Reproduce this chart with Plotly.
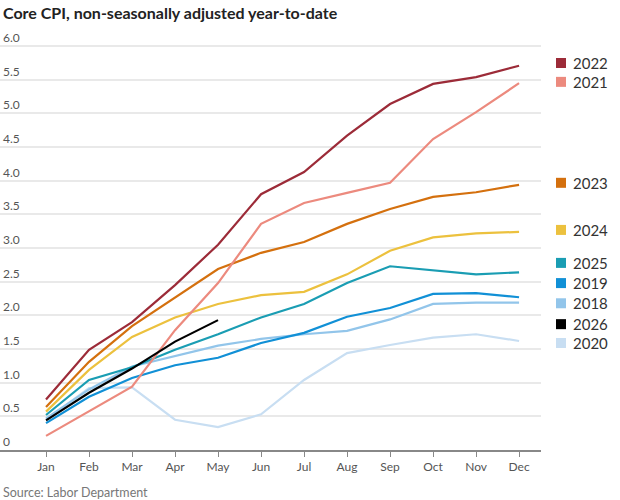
import plotly.graph_objects as go

# Data (core CPI, % change year-to-date)
months = ["Jan", "Feb", "Mar", "Apr", "May", "Jun", "Jul", "Aug", "Sep", "Oct", "Nov", "Dec"]

cpi_2022 = [0.75, 1.49, 1.90, 2.45, 3.05, 3.80, 4.13, 4.67, 5.14, 5.44, 5.54, 5.71]
cpi_2021 = [0.21, 0.57, 0.94, 1.78, 2.48, 3.36, 3.67, 3.82, 3.97, 4.62, 5.02, 5.45]
cpi_2023 = [0.64, 1.31, 1.84, 2.27, 2.69, 2.93, 3.09, 3.36, 3.58, 3.76, 3.83, 3.94]
cpi_2024 = [0.57, 1.19, 1.68, 1.97, 2.17, 2.30, 2.35, 2.61, 2.96, 3.16, 3.22, 3.24]
cpi_2025 = [0.52, 1.04, 1.23, 1.49, 1.72, 1.97, 2.17, 2.48, 2.73, 2.67, 2.61, 2.64]
cpi_2019 = [0.40, 0.79, 1.07, 1.26, 1.37, 1.59, 1.74, 1.98, 2.11, 2.32, 2.33, 2.27]
cpi_2018 = [0.47, 0.90, 1.24, 1.40, 1.55, 1.65, 1.72, 1.77, 1.94, 2.17, 2.19, 2.19]
cpi_2026 = [0.44, 0.85, 1.21, 1.61, 1.93]
cpi_2020 = [0.45, 0.92, 0.93, 0.45, 0.34, 0.53, 1.04, 1.44, 1.56, 1.67, 1.72, 1.62]

years = ["2022", "2021", "2023", "2024", "2025", "2019", "2018", "2026", "2020"]
series = [cpi_2022, cpi_2021, cpi_2023, cpi_2024, cpi_2025, cpi_2019, cpi_2018, cpi_2026, cpi_2020]
colors = ["#9c2b38", "#ec8a7e", "#d4700e", "#ecc13e", "#1a9db3", "#1190d6",
          "#92c5ea", "#000000", "#c8def2"]
# where each year label sits on the right (nudged apart so they don't overlap)
label_y = [5.75, 5.47, 3.97, 3.27, 2.78, 2.48, 2.18, 1.87, 1.59]

ytick_vals = [0, 0.5, 1.0, 1.5, 2.0, 2.5, 3.0, 3.5, 4.0, 4.5, 5.0, 5.5, 6.0]
ytick_text = ["0", "0.5", "1.0", "1.5", "2.0", "2.5", "3.0", "3.5", "4.0", "4.5", "5.0", "5.5", "6.0"]

font = "Lato"
grey = "#555555"

fig = go.Figure()

# draw lighter / older years first so the recent ones sit on top
draw_order = ["2020", "2018", "2019", "2025", "2024", "2023", "2021", "2022", "2026"]
for yr in draw_order:
    i = years.index(yr)
    vals = series[i]
    fig.add_trace(go.Scatter(x=months[:len(vals)], y=vals, mode="lines", name=yr,
                             line=dict(color=colors[i], width=2.2), showlegend=False))

# right-hand labels: coloured square + year
for i, yr in enumerate(years):
    fig.add_shape(type="rect", xref="paper", yref="y",
                  xsizemode="pixel", ysizemode="pixel",
                  xanchor=1, yanchor=label_y[i],
                  x0=15, x1=25, y0=-5, y1=5,
                  fillcolor=colors[i], line=dict(width=0))
    fig.add_annotation(text=yr, xref="paper", yref="y", x=1, y=label_y[i],
                       xanchor="left", yanchor="middle", xshift=30, showarrow=False,
                       font=dict(family=font, size=15, color="#333333"))

fig.add_annotation(text="<b>Core CPI, non-seasonally adjusted year-to-date</b>",
                   xref="paper", yref="paper", x=0, y=1, xanchor="left", yanchor="middle",
                   xshift=1, yshift=14, showarrow=False,
                   font=dict(family=font, size=16, color="#222222"))

fig.add_annotation(text="Source: Labor Department", xref="paper", yref="paper",
                   x=0, y=0, xanchor="left", yanchor="middle", xshift=1, yshift=-42,
                   showarrow=False, font=dict(family=font, size=12.5, color="#777777"))

fig.update_layout(
    width=620, height=500,
    margin=dict(l=0, r=79, t=26, b=50, pad=0),
    paper_bgcolor="white", plot_bgcolor="white",
    font=dict(family=font, color=grey),
    xaxis=dict(range=[-1.07, 11.51], tickmode="array", tickvals=months,
               showgrid=False, showline=True, linecolor="#888888", linewidth=1.5,
               ticks="outside", ticklen=5, tickcolor="#888888", tickwidth=1.2,
               tickfont=dict(family=font, size=12, color=grey),
               automargin=False, fixedrange=True),
    yaxis=dict(range=[0, 6.3], tickvals=ytick_vals, ticktext=ytick_text,
               ticklabelposition="inside top", showgrid=True, gridcolor="#e9e9e9",
               gridwidth=1.5, zeroline=False, showline=False,
               tickfont=dict(family=font, size=12, color=grey),
               automargin=False, fixedrange=True),
)

# drop the browser's default 8px page margin so the figure sits at the corner
fig.write_html("out.html", config={"displayModeBar": False},
               post_script="document.body.style.margin='0';")
